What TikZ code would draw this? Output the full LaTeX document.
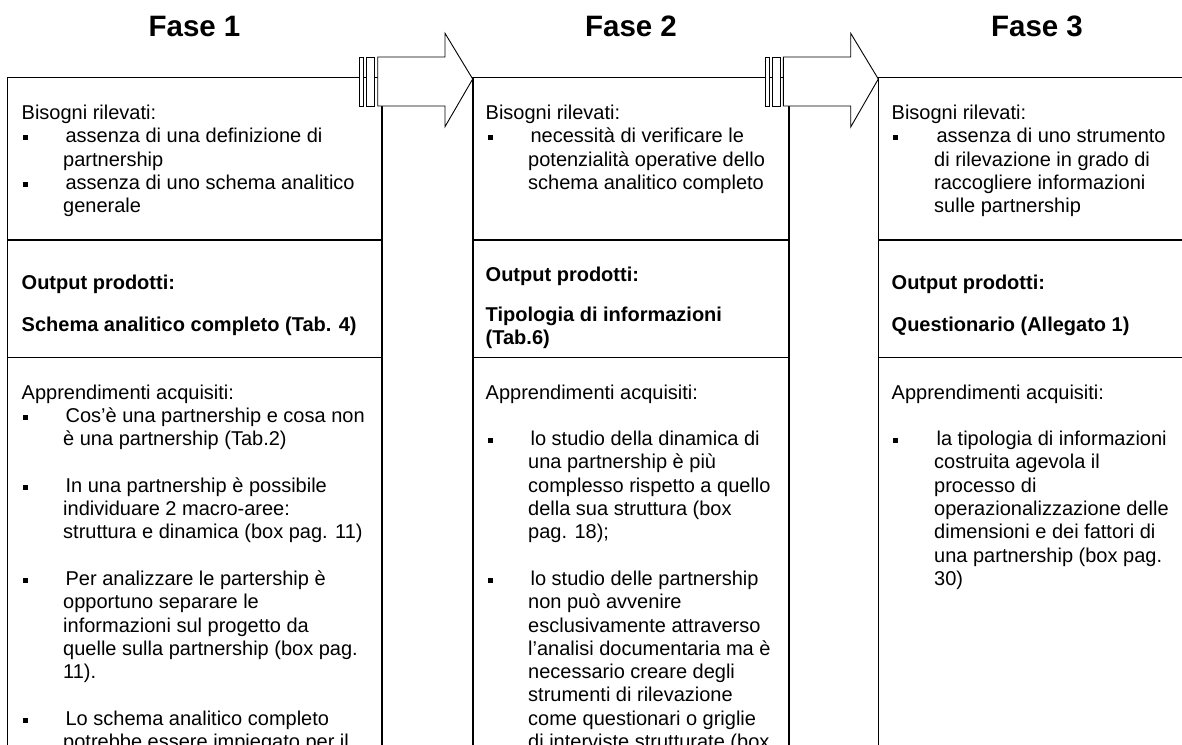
\documentclass[tikz,border=0pt]{standalone}
\usepackage{fontspec}
\setmainfont{Liberation Sans}
\begin{document}
\begin{tikzpicture}[x=1pt,y=-1pt,
  boxline/.style={line width=1.4pt},
  thinline/.style={line width=1pt},
  arrowpart/.style={draw=black, fill=white, line width=0.9pt, line join=miter},
  fasetitle/.style={font=\fontsize{29.5}{34}\selectfont\bfseries, anchor=base, inner sep=0pt},
  bodytext/.style={font=\fontsize{20}{23.3}\selectfont, anchor=base west, inner sep=0pt, align=left},
  boldtext/.style={font=\fontsize{20}{23.3}\selectfont\bfseries, anchor=base west, inner sep=0pt, align=left},
  bulsq/.style={rectangle, fill=black, inner sep=0pt, minimum size=5pt},
]
\useasboundingbox (0,0) rectangle (1182,744);
\clip (0,0) rectangle (1182,744);

% ---------- boxes ----------
\draw[boxline] (7.5,77.5) rectangle (382,800);
\draw[boxline] (7.5,240) -- (382,240);
\draw[thinline] (7.5,357) -- (382,357);

\draw[boxline] (473,77.5) rectangle (789,800);
\draw[boxline] (473,240) -- (789,240);
\draw[thinline] (473,357) -- (789,357);

\draw[boxline] (878.3,77.5) rectangle (1196,800);
\draw[boxline] (878.3,240) -- (1196,240);
\draw[thinline] (878.3,357) -- (1196,357);

% ---------- arrows ----------
\draw[arrowpart] (359.3,57) rectangle (363.3,106);
\draw[arrowpart] (366,57) rectangle (374.3,106);
\draw[arrowpart] (377.7,57) -- (445,57) -- (445,33.3) -- (472.7,79) -- (445,126.7) -- (445,106) -- (377.7,106) -- cycle;

\draw[arrowpart] (765.3,57) rectangle (769.7,106);
\draw[arrowpart] (772.3,57) rectangle (780.7,106);
\draw[arrowpart] (783.3,57) -- (850.7,57) -- (850.7,33.3) -- (878.3,79) -- (850.7,127) -- (850.7,106) -- (783.3,106) -- cycle;

% ---------- titles ----------
\node[fasetitle] (f1) at (194.5,36.7) {Fase 1};
\node[fasetitle] (f2) at (631,36.7) {Fase 2};
\node[fasetitle] (f3) at (1037,36.7) {Fase 3};

% ---------- Fase 1 ----------
\node[bodytext] (b1h) at (21.5,119.5) {Bisogni rilevati:};
\node[bulsq] (b1s1) at (25.8,137.8) {};
\node[bodytext] (b1t1) at (63,166.1) {\hspace*{2.4pt}assenza di una definizione di\\partnership};
\node[bulsq] (b1s2) at (25.8,184.4) {};
\node[bodytext] (b1t2) at (63,212.7) {\hspace*{2.4pt}assenza di uno schema analitico\\generale};

\node[boldtext] (o1a) at (21.5,289) {Output prodotti:};
\node[boldtext] (o1b) at (21.5,331) {Schema analitico completo (Tab. 4)};

\node[bodytext] (a1h) at (21.5,399) {Apprendimenti acquisiti:};
\node[bulsq] (a1s1) at (25.8,417.3) {};
\node[bodytext] (a1t1) at (63,445.6) {\hspace*{2.4pt}Cos’è una partnership e cosa non\\è una partnership (Tab.2)};
\node[bulsq] (a1s2) at (25.8,487.2) {};
\node[bodytext] (a1t2) at (63,538.8) {\hspace*{2.4pt}In una partnership è possibile\\individuare 2 macro-aree:\\struttura e dinamica (box pag. 11)};
\node[bulsq] (a1s3) at (25.8,580.4) {};
\node[bodytext] (a1t3) at (63,678.6) {\hspace*{2.4pt}Per analizzare le partership è\\opportuno separare le\\informazioni sul progetto da\\quelle sulla partnership (box pag.\\11).};
\node[bulsq] (a1s4) at (25.8,720.2) {};
\node[bodytext] (a1t4) at (63,748.5) {\hspace*{2.4pt}Lo schema analitico completo\\potrebbe essere impiegato per il};

% ---------- Fase 2 ----------
\node[bodytext] (b2h) at (485.5,119.5) {Bisogni rilevati:};
\node[bulsq] (b2s1) at (490.8,137.8) {};
\node[bodytext] (b2t1) at (528,189.4) {\hspace*{2.4pt}necessità di verificare le\\potenzialità operative dello\\schema analitico completo};

\node[boldtext] (o2a) at (485.5,281) {Output prodotti:};
\node[boldtext] (o2b) at (485.5,344.8) {Tipologia di informazioni\\(Tab.6)};

\node[bodytext] (a2h) at (485.5,399) {Apprendimenti acquisiti:};
\node[bulsq] (a2s1) at (490.8,440.6) {};
\node[bodytext] (a2t1) at (528,538.8) {\hspace*{2.4pt}lo studio della dinamica di\\una partnership è più\\complesso rispetto a quello\\della sua struttura (box\\pag. 18);};
\node[bulsq] (a2s2) at (490.8,580.4) {};
\node[bodytext] (a2t2) at (528,748.5) {\hspace*{2.4pt}lo studio delle partnership\\non può avvenire\\esclusivamente attraverso\\l’analisi documentaria ma è\\necessario creare degli\\strumenti di rilevazione\\come questionari o griglie\\di interviste strutturate (box};

% ---------- Fase 3 ----------
\node[bodytext] (b3h) at (891.5,119.5) {Bisogni rilevati:};
\node[bulsq] (b3s1) at (895.8,137.8) {};
\node[bodytext] (b3t1) at (934,212.7) {\hspace*{2.4pt}assenza di uno strumento\\di rilevazione in grado di\\raccogliere informazioni\\sulle partnership};

\node[boldtext] (o3a) at (891.5,289) {Output prodotti:};
\node[boldtext] (o3b) at (891.5,331) {Questionario (Allegato 1)};

\node[bodytext] (a3h) at (891.5,399) {Apprendimenti acquisiti:};
\node[bulsq] (a3s1) at (895.8,440.6) {};
\node[bodytext] (a3t1) at (934,585.4) {\hspace*{2.4pt}la tipologia di informazioni\\costruita agevola il\\processo di\\operazionalizzazione delle\\dimensioni e dei fattori di\\una partnership (box pag.\\30)};
\end{tikzpicture}
\end{document}
